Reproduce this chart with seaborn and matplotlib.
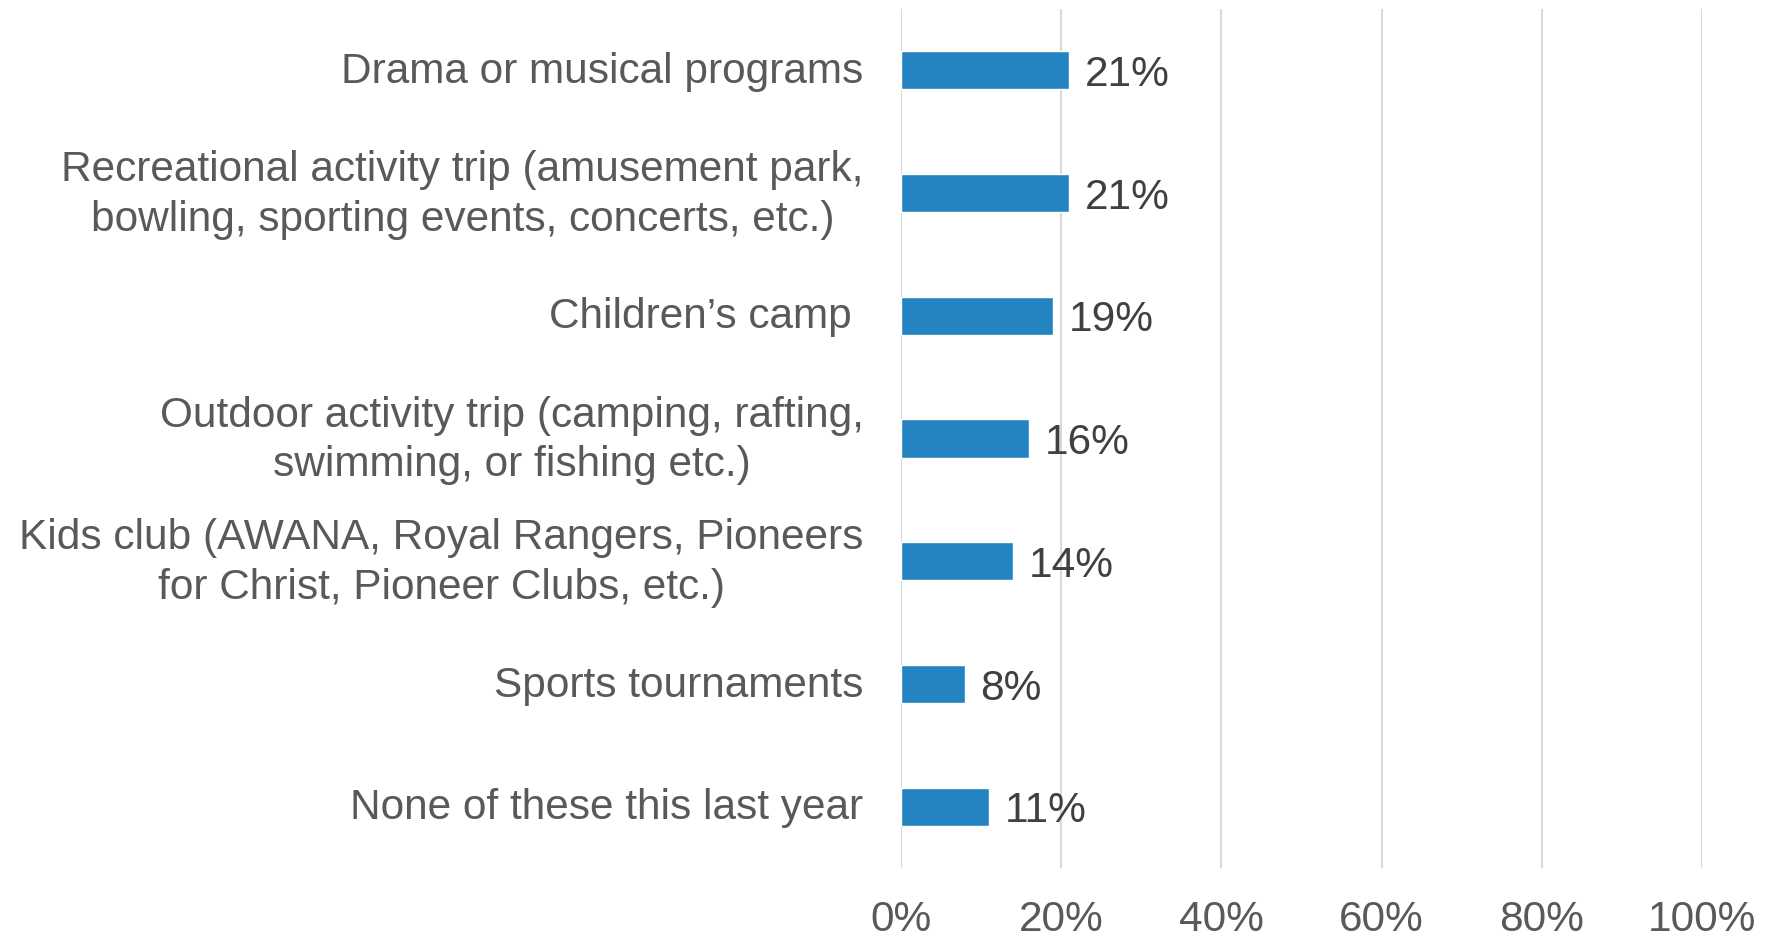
import matplotlib
matplotlib.use("Agg")
import matplotlib.pyplot as plt
import matplotlib.transforms as mtransforms
import seaborn as sns
import pandas as pd
from matplotlib.ticker import FuncFormatter

categories = [
    "Drama or musical programs",
    "Recreational activity trip (amusement park,\nbowling, sporting events, concerts, etc.)",
    "Children\u2019s camp ",
    "Outdoor activity trip (camping, rafting,\nswimming, or fishing etc.)",
    "Kids club (AWANA, Royal Rangers, Pioneers\nfor Christ, Pioneer Clubs, etc.)",
    "Sports tournaments",
    "None of these this last year",
]
values = [21, 21, 19, 16, 14, 8, 11]
x_ticks = [0, 20, 40, 60, 80, 100]

sns.set_style("white")
plt.rcParams["font.family"] = ["Liberation Sans", "DejaVu Sans"]

df = pd.DataFrame({"category": categories, "value": values})

fig = plt.figure(figsize=(17.73, 9.38), dpi=100)
ax = fig.add_axes([0.5082, 0.0745, 0.4518, 0.916])

sns.barplot(data=df, x="value", y="category", orient="h", color="#2484C1",
            saturation=1, width=0.31, ax=ax)

ax.set_xlim(0, 100)
ax.set_ylim(6.5, -0.5)
ax.set_xticks(x_ticks)
ax.xaxis.set_major_formatter(FuncFormatter(lambda v, p: f"{v:.0f}%"))
ax.grid(axis="x", color="#D9D9D9", linewidth=1.5)
ax.set_axisbelow(True)
for s in ax.spines.values():
    s.set_visible(False)
ax.set_xlabel("")
ax.set_ylabel("")
ax.tick_params(axis="y", length=0, pad=27, labelsize=30.5, labelcolor="#595959")
ax.tick_params(axis="x", length=0, pad=23, labelsize=30.5, labelcolor="#595959")
for lbl in ax.get_yticklabels():
    lbl.set_multialignment("center")
    lbl.set_linespacing(1.3)
    nlines = lbl.get_text().count("\n") + 1
    dy_px = 2.8 + 4.5 * (nlines - 1)
    offset = mtransforms.ScaledTranslation(0, dy_px / 100.0, fig.dpi_scale_trans)
    lbl.set_transform(lbl.get_transform() + offset)

texts = ax.bar_label(ax.containers[0], labels=[f"{v}%" for v in values], padding=11,
                     fontsize=30.5, color="#404040")
for t in texts:
    t.set_va("center_baseline")

fig.savefig("out.png", dpi=100)
